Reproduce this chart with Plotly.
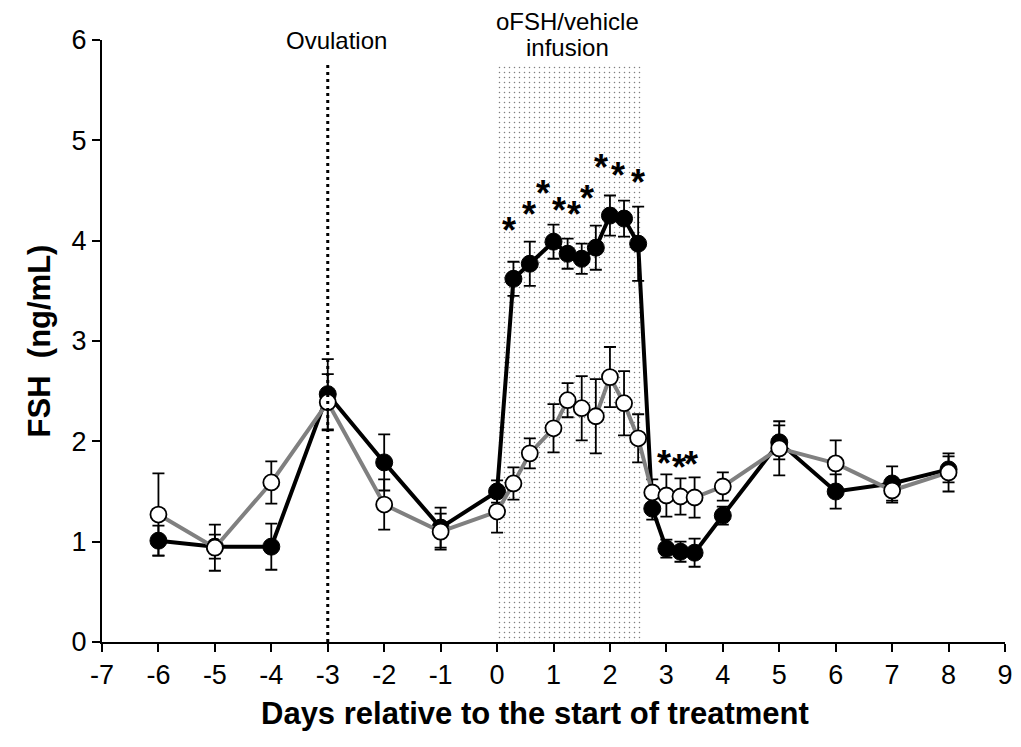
import plotly.graph_objects as go

# Sampling days relative to the start of treatment
days = [-6, -5, -4, -3, -2, -1, 0, 0.29, 0.58, 1.0, 1.25, 1.5, 1.75, 2.0, 2.25,
        2.5, 2.75, 3.0, 3.25, 3.5, 4, 5, 6, 7, 8]

# oFSH-infused group (filled circles): mean and SEM
ofsh_mean = [1.01, 0.95, 0.95, 2.47, 1.79, 1.14, 1.50, 3.62, 3.77, 3.99, 3.87, 3.82,
             3.93, 4.25, 4.22, 3.97, 1.33, 0.93, 0.90, 0.89, 1.26, 1.99, 1.50, 1.58, 1.72]
ofsh_sem = [0.15, 0.12, 0.23, 0.35, 0.28, 0.20, 0.11, 0.17, 0.22, 0.17, 0.15, 0.15,
            0.22, 0.20, 0.18, 0.37, 0.11, 0.09, 0.10, 0.14, 0.09, 0.17, 0.17, 0.17, 0.13]

# Vehicle group (open circles): mean and SEM
veh_mean = [1.27, 0.94, 1.59, 2.39, 1.37, 1.10, 1.30, 1.58, 1.88, 2.13, 2.41, 2.33,
            2.25, 2.64, 2.38, 2.03, 1.49, 1.46, 1.45, 1.44, 1.55, 1.93, 1.78, 1.51, 1.69]
veh_sem = [0.41, 0.23, 0.21, 0.28, 0.25, 0.18, 0.21, 0.16, 0.15, 0.24, 0.17, 0.32,
           0.37, 0.30, 0.32, 0.24, 0.13, 0.21, 0.18, 0.20, 0.14, 0.27, 0.23, 0.12, 0.19]

# Significance markers (day, FSH level)
star_x = [0.21, 0.56, 0.82, 1.10, 1.36, 1.59, 1.84, 2.15, 2.49, 2.96, 3.22, 3.44]
star_y = [4.15, 4.31, 4.52, 4.35, 4.31, 4.47, 4.78, 4.70, 4.63, 1.83, 1.79, 1.82]

# Infusion window and ovulation day
infusion_start, infusion_end, infusion_top = 0.0, 2.55, 5.74
ovulation_day, ovulation_top = -3, 5.75

x_ticks = list(range(-7, 10))
y_ticks = list(range(0, 7))

FONT = "Liberation Sans, Arial, sans-serif"
TICK_FONT = dict(family=FONT, size=27, color="black")

fig = go.Figure()

# Stippled band marking the infusion period
fig.add_trace(go.Bar(
    x=[(infusion_start + infusion_end) / 2], y=[infusion_top],
    width=[infusion_end - infusion_start], base=0,
    marker=dict(color="white", line=dict(width=0),
                pattern=dict(shape=".", fgcolor="black", bgcolor="white",
                             size=5, solidity=0.07)),
    hoverinfo="skip", showlegend=False,
))

fig.add_trace(go.Scatter(
    x=days, y=ofsh_mean, mode="lines+markers",
    line=dict(color="black", width=4),
    marker=dict(size=17, color="black", line=dict(color="black", width=1)),
    error_y=dict(type="data", array=ofsh_sem, color="black", thickness=1.8, width=6),
    showlegend=False,
))

fig.add_trace(go.Scatter(
    x=days, y=veh_mean, mode="lines+markers",
    line=dict(color="#808080", width=4),
    marker=dict(size=16, color="white", line=dict(color="black", width=1.8)),
    error_y=dict(type="data", array=veh_sem, color="black", thickness=1.8, width=6),
    showlegend=False,
))

# Dotted line on the day of ovulation
fig.add_shape(type="line", x0=ovulation_day, x1=ovulation_day, y0=0, y1=ovulation_top,
              xref="x", yref="y", line=dict(color="black", width=3, dash="3px,4px"))

for sx, sy in zip(star_x, star_y):
    fig.add_annotation(x=sx, y=sy, text="<b>*</b>", showarrow=False,
                       font=dict(family=FONT, size=36, color="black"),
                       xanchor="center", yanchor="middle", yshift=-5)

label_font = dict(family=FONT, size=24, color="black")
fig.add_annotation(x=-2.85, xref="x", y=1.0, yref="paper", text="Ovulation",
                   showarrow=False, font=label_font, xanchor="center", yanchor="middle")
fig.add_annotation(x=1.25, xref="x", y=1.03, yref="paper", text="oFSH/vehicle",
                   showarrow=False, font=label_font, xanchor="center", yanchor="middle")
fig.add_annotation(x=1.25, xref="x", y=0.987, yref="paper", text="infusion",
                   showarrow=False, font=label_font, xanchor="center", yanchor="middle")

fig.add_annotation(xref="paper", yref="paper", x=0.479, y=-0.118,
                   text="<b>Days relative to the start of treatment</b>", showarrow=False,
                   font=dict(family=FONT, size=31, color="black"),
                   xanchor="center", yanchor="middle")

axis_common = dict(showline=True, linecolor="black", linewidth=2, ticks="outside",
                   ticklen=8, tickwidth=2, tickcolor="black", showgrid=False,
                   zeroline=False, tickfont=TICK_FONT, ticklabeloverflow="allow")

fig.update_layout(
    width=1021, height=747,
    margin=dict(l=102, r=8, t=40, b=105),
    plot_bgcolor="white", paper_bgcolor="white",
    bargap=0,
    xaxis=dict(range=[-7, 9], tickvals=x_ticks, ticktext=[str(v) for v in x_ticks],
               **axis_common),
    yaxis=dict(range=[0, 6], tickvals=y_ticks, ticktext=[str(v) for v in y_ticks],
               title=dict(text="<b>FSH  (ng/mL)</b>", standoff=12,
                          font=dict(family=FONT, size=31, color="black")),
               **axis_common),
)

fig.write_html("out.html")
